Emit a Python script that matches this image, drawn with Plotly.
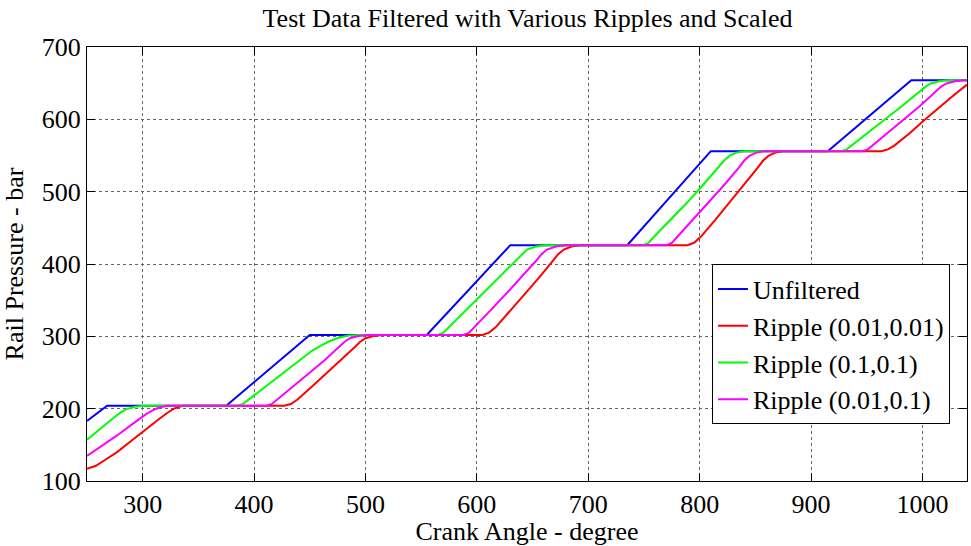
import plotly.graph_objects as go

# ---- data ----
unf_x = [250, 268, 375, 450, 555, 630, 735, 810, 915, 990, 1040]
unf_y = [183, 204, 204, 302, 302, 426, 426, 556, 556, 654, 654]

red_x = [250, 258, 265, 277, 291, 303, 315, 322, 328, 336,
         427, 433, 439, 452, 465, 478, 490, 495, 500, 507, 515,
         605, 611, 617, 630, 643, 656, 668, 673, 678, 685, 693,
         789, 795, 801, 814, 827, 840, 852, 857, 862, 868, 875,
         963, 969, 975, 988, 1001, 1014, 1027, 1040]
red_y = [117, 121, 128, 140, 157, 172, 186, 194, 200, 204,
         204, 206.5, 212.7, 230.5, 248.7, 266.7, 284.7, 292.2, 297.3, 300.5, 302,
         302, 305.1, 312.8, 335.5, 358.5, 381.4, 404.1, 413.6, 420, 424.1, 426,
         426, 429.3, 437.6, 461.1, 485.3, 509.2, 533, 543, 549.8, 554, 556,
         556, 558.5, 564, 580, 598, 615.5, 632, 648]

grn_x = [250, 260, 274, 280, 285, 293, 302,
         385, 390, 395, 410, 425, 440, 452, 460, 468, 476, 485, 495,
         565, 570, 575, 590, 605, 620, 634, 640, 645, 653, 662,
         749, 754, 759, 774, 789, 803, 817, 822, 827, 833, 840,
         927, 932, 937, 952, 967, 982, 996, 1002, 1007, 1015, 1024, 1040]
grn_y = [157, 170, 187.5, 194.5, 199, 202.5, 204,
         204, 206.5, 212.5, 230.5, 248.5, 266.5, 280, 287, 293.5, 298, 301, 302,
         302, 305.1, 312.8, 335.5, 358.5, 381.4, 404.1, 413.6, 420, 424.1, 426,
         426, 429.3, 437.6, 461.1, 485.3, 509.2, 533, 543, 549.8, 554, 556,
         556, 558.5, 564.7, 582.5, 600.7, 618.7, 636.7, 644.2, 649.3, 652.5, 654, 654]

mag_x = [250, 262, 277, 291, 303, 310, 315, 322,
         411, 416, 421, 435, 449, 463, 476, 481, 486, 494, 503,
         588, 593, 598, 612, 626, 640, 653, 658, 663, 671, 680,
         770, 775, 780, 794, 808, 822, 835, 840, 845, 851, 858,
         946, 951, 956, 970, 984, 998, 1011, 1016, 1021, 1029, 1038, 1040]
mag_y = [134.6, 147, 163, 179, 192.5, 198.5, 201.5, 204,
         204, 206.5, 212.7, 230.5, 248.7, 266.7, 284.7, 292.2, 297.3, 300.5, 302,
         302, 305.1, 312.8, 335.5, 358.5, 381.4, 404.1, 413.6, 420, 424.1, 426,
         426, 429.3, 437.6, 461.1, 485.3, 509.2, 533, 543, 549.8, 554, 556,
         556, 558.5, 564.7, 582.5, 600.7, 618.7, 636.7, 644.2, 649.3, 652.5, 654, 654]

x_ticks = [300, 400, 500, 600, 700, 800, 900, 1000]
y_ticks = [100, 200, 300, 400, 500, 600, 700]

names = ["Unfiltered", "Ripple (0.01,0.01)", "Ripple (0.1,0.1)", "Ripple (0.01,0.1)"]
colors = ["#0000FF", "#FF0000", "#00FF00", "#FF00FF"]
series = [(unf_x, unf_y), (red_x, red_y), (grn_x, grn_y), (mag_x, mag_y)]

FONT = "Liberation Serif, Times New Roman, serif"

fig = go.Figure()
for (xs, ys), nm, c in zip(series, names, colors):
    fig.add_trace(go.Scatter(x=xs, y=ys, mode="lines", name=nm,
                             line=dict(color=c, width=2)))

axis_common = dict(
    showline=True, linecolor="#000000", linewidth=1, mirror="ticks",
    ticks="inside", ticklen=8, tickcolor="#000000", tickwidth=1,
    showgrid=True, gridcolor="#666666", griddash="dot", gridwidth=1,
    zeroline=False, tickfont=dict(family=FONT, size=26, color="#000000"),
)

fig.update_layout(
    width=971, height=546,
    margin=dict(l=87, r=3, t=47, b=60),
    paper_bgcolor="white", plot_bgcolor="white",
    font=dict(family=FONT, color="#000000"),
    title=dict(text="Test Data Filtered with Various Ripples and Scaled",
               x=(87 + 968) / 2 / 971, xanchor="center",
               y=1 - 18 / 546, yanchor="middle", yref="container",
               font=dict(family=FONT, size=26, color="#000000")),
    xaxis=dict(range=[250, 1040], tickvals=x_ticks,
               title=dict(text="Crank Angle - degree", standoff=6,
                          font=dict(family=FONT, size=26)),
               **axis_common),
    yaxis=dict(range=[100, 700], tickvals=y_ticks,
               title=dict(text="Rail Pressure - bar", standoff=12,
                          font=dict(family=FONT, size=26)),
               **axis_common),
    legend=dict(x=0.9807, y=0.4989, xanchor="right", yanchor="top",
                bgcolor="white", bordercolor="#000000", borderwidth=1,
                font=dict(family=FONT, size=26, color="#000000"),
                tracegroupgap=0, itemwidth=30),
    showlegend=True,
)

fig.write_html("out.html")
